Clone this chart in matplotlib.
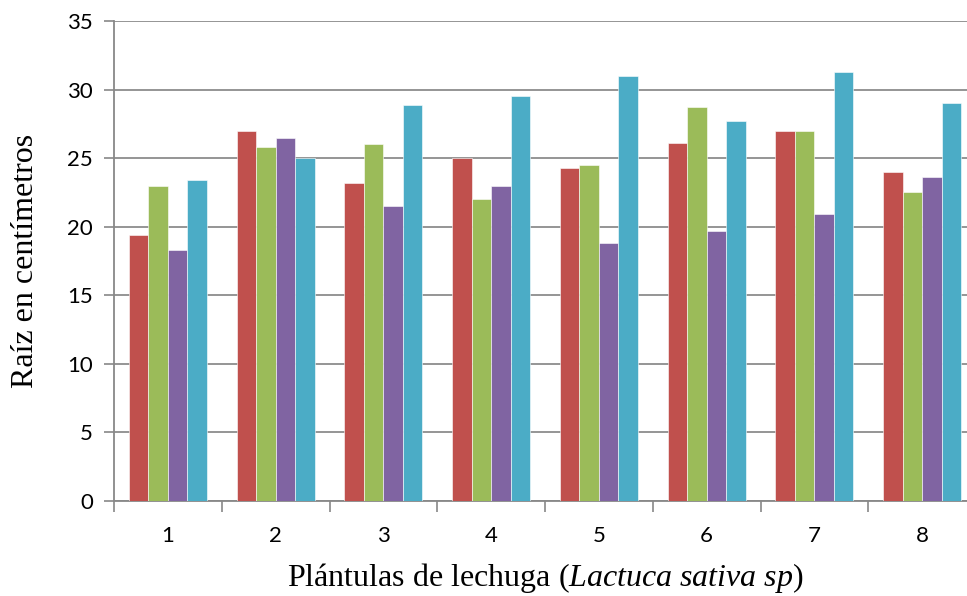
import matplotlib
matplotlib.use("Agg")
import matplotlib.pyplot as plt
import numpy as np

plt.rcParams["mathtext.fontset"] = "custom"
plt.rcParams["mathtext.it"] = "Liberation Serif:italic"
plt.rcParams["mathtext.rm"] = "Liberation Serif"

categories = ["1", "2", "3", "4", "5", "6", "7", "8"]
serie_roja = [19.4, 27.0, 23.2, 25.0, 24.3, 26.1, 27.0, 24.0]
serie_verde = [23.0, 25.8, 26.0, 22.0, 24.5, 28.7, 27.0, 22.5]
serie_morada = [18.3, 26.5, 21.5, 23.0, 18.8, 19.7, 20.9, 23.6]
serie_azul = [23.4, 25.0, 28.9, 29.5, 31.0, 27.7, 31.3, 29.0]
colors = ["#C0504D", "#9BBB59", "#8064A2", "#4BACC6"]
yticks = [0, 5, 10, 15, 20, 25, 30, 35]

fig = plt.figure(figsize=(9.67, 5.96), dpi=100)
ax = fig.add_axes([114/967, (596-501)/596, 862/967, 480/596])

x = np.arange(len(categories))
w = 0.181
series = [serie_roja, serie_verde, serie_morada, serie_azul]
for i, (s, c) in enumerate(zip(series, colors)):
    ax.bar(x + (i - 1.5) * w, s, width=w, color=c, edgecolor="white", linewidth=0.4, zorder=3)

ax.set_xlim(-0.5, 7.5)
ax.set_ylim(0, 35)
ax.set_yticks(yticks)
ax.set_yticklabels([str(t) for t in yticks], fontsize=16, family="Lato")
ax.set_xticks(x)
ax.set_xticklabels(categories, fontsize=16, family="Lato")
ax.tick_params(axis="x", which="major", length=0, pad=18)
ax.set_xticks(np.arange(-0.5, 8.0, 1.0), minor=True)
ax.tick_params(axis="x", which="minor", length=8, color="#888888", width=1.2)
ax.tick_params(axis="y", length=7, color="#888888", width=1.2, pad=8)
ax.yaxis.grid(True, color="#8c8c8c", linewidth=1.3, zorder=0)
ax.set_axisbelow(True)
for sp in ["top", "right"]:
    ax.spines[sp].set_visible(False)
ax.spines["left"].set_color("#888888")
ax.spines["left"].set_linewidth(1.3)
ax.spines["bottom"].set_color("#888888")
ax.spines["bottom"].set_linewidth(1.3)

ax.set_ylabel("Raíz en centímetros", fontsize=23, family="Liberation Serif")
ax.yaxis.set_label_coords(-0.086, 0.5)
ax.set_xlabel("Plántulas de lechuga ($\\mathit{Lactuca\\ sativa\\ sp}$)", fontsize=23,
              family="Liberation Serif")
ax.xaxis.set_label_coords(0.5, -0.126)

fig.savefig("out.png", dpi=100)
